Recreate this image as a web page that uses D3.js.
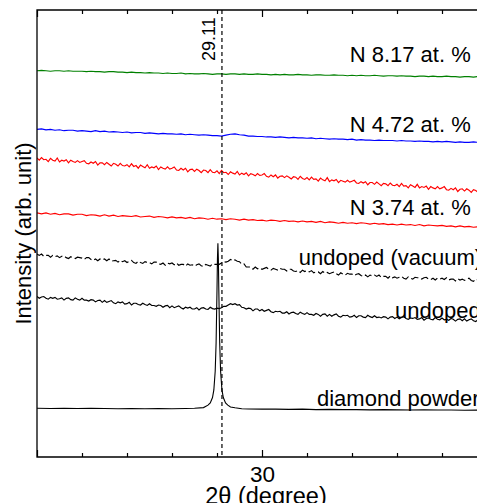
<!DOCTYPE html>
<html>
<head>
<meta charset="utf-8">
<script src="https://cdn.jsdelivr.net/npm/d3@7"></script>
<style>
  body { margin: 0; background: #fff; }
  svg { display: block; font-family: "Liberation Sans", Arial, sans-serif; }
</style>
</head>
<body>
<div id="chart"></div>
<script>
// sampling grids of the XRD traces (2theta, degree)
const twoThetaStart = 25.0
const coarseStep = 0.1
const fineStep = 0.05

// intensities (arb. unit, offset traces)
const n817 = [
  86.4, 86.5, 86.4, 86.3, 86.4, 86.4, 86.3, 86.4, 86.3, 86.3,
  86.3, 86.2, 86.3, 86.2, 86.2, 86.1, 86.2, 86.2, 86.1, 86.1,
  86.0, 86.1, 86.0, 86.0, 85.9, 86.0, 85.9, 85.9, 85.8, 85.9,
  85.8, 85.8, 85.9, 85.7, 85.8, 85.7, 85.7, 85.8, 85.7, 85.6,
  85.7, 85.7, 85.6, 85.7, 85.7, 85.6, 85.7, 85.6, 85.6, 85.7,
  85.6, 85.6, 85.5, 85.6, 85.5, 85.6, 85.5, 85.5, 85.6, 85.5,
  85.5, 85.4, 85.5, 85.5, 85.4, 85.4, 85.5, 85.4, 85.4, 85.3,
  85.4, 85.3, 85.4, 85.3, 85.3, 85.4, 85.3, 85.2, 85.3, 85.3,
  85.2, 85.3, 85.2, 85.2, 85.1, 85.2, 85.2, 85.1, 85.2, 85.1,
  85.1, 85.2, 85.1, 85.1, 85.0, 85.1, 85.1, 85.0, 85.1, 85.0
]
const n472 = [
  73.3, 73.4, 73.2, 73.3, 73.1, 73.2, 73.0, 73.1, 73.1, 72.9,
  73.0, 72.9, 72.8, 73.0, 72.8, 72.9, 72.7, 72.8, 72.7, 72.6,
  72.7, 72.5, 72.6, 72.6, 72.4, 72.5, 72.4, 72.3, 72.4, 72.3,
  72.3, 72.2, 72.3, 72.1, 72.2, 72.1, 72.0, 72.1, 72.0, 71.9,
  71.9, 71.8, 72.0, 72.2, 72.3, 72.1, 72.0, 71.8, 71.8, 71.7,
  71.7, 71.6, 71.6, 71.5, 71.6, 71.5, 71.4, 71.5, 71.4, 71.4,
  71.3, 71.4, 71.2, 71.3, 71.2, 71.1, 71.2, 71.1, 71.1, 71.0,
  71.1, 70.9, 71.0, 70.9, 70.9, 70.8, 70.9, 70.8, 70.8, 70.8,
  70.7, 70.8, 70.7, 70.7, 70.6, 70.7, 70.6, 70.6, 70.5, 70.6,
  70.5, 70.6, 70.5, 70.4, 70.5, 70.4, 70.4, 70.5, 70.4, 70.3
]
// unlabelled red trace (fine grid)
const n374b = [
  66.9, 66.4, 67.0, 66.5, 66.6, 66.1, 66.8, 66.4, 66.2, 66.9,
  66.0, 66.4, 66.2, 66.5, 65.8, 66.4, 66.1, 65.9, 66.3, 65.9,
  66.1, 66.3, 65.7, 65.6, 66.0, 65.7, 66.1, 65.3, 65.8, 65.8,
  65.4, 65.9, 65.5, 65.1, 65.7, 65.5, 65.1, 65.7, 65.2, 65.1,
  65.4, 64.9, 65.6, 65.0, 65.2, 64.6, 65.3, 65.0, 64.7, 65.4,
  64.6, 64.9, 64.7, 65.1, 64.3, 64.9, 64.6, 64.4, 64.9, 64.4,
  64.6, 64.9, 64.2, 64.1, 64.6, 64.2, 64.6, 63.8, 64.3, 64.4,
  63.9, 64.4, 64.1, 63.6, 64.2, 64.1, 63.6, 64.3, 63.7, 63.6,
  64.0, 63.4, 64.1, 63.6, 63.7, 63.2, 63.8, 63.5, 63.3, 63.9,
  63.1, 63.5, 63.2, 63.6, 62.9, 63.4, 63.2, 62.9, 63.4, 63.0,
  63.1, 63.4, 62.8, 62.6, 63.1, 62.7, 63.1, 62.4, 62.8, 62.9,
  62.5, 62.9, 62.6, 62.2, 62.7, 62.6, 62.1, 62.8, 62.3, 62.1,
  62.5, 62.0, 62.6, 62.1, 62.2, 61.7, 62.4, 62.0, 61.8, 62.5,
  61.6, 62.0, 61.8, 62.1, 61.4, 61.9, 61.7, 61.5, 61.9, 61.5,
  61.7, 61.9, 61.3, 61.2, 61.6, 61.3, 61.6, 60.9, 61.4, 61.4,
  61.0, 61.5, 61.1, 60.7, 61.2, 61.1, 60.7, 61.3, 60.8, 60.7,
  61.0, 60.5, 61.2, 60.6, 60.7, 60.2, 60.9, 60.6, 60.3, 61.0,
  60.2, 60.5, 60.3, 60.6, 59.9, 60.5, 60.2, 60.0, 60.5, 60.0,
  60.2, 60.5, 59.8, 59.7, 60.1, 59.8, 60.2, 59.4, 59.9, 60.0,
  59.5, 60.0, 59.7, 59.2, 59.8, 59.6, 59.2, 59.9, 59.3, 59.2
]
const n374 = [
  54.6, 54.4, 54.6, 54.3, 54.5, 54.2, 54.4, 54.4, 54.1, 54.3,
  54.3, 54.0, 54.2, 54.1, 53.9, 54.2, 53.9, 54.1, 53.8, 54.0,
  53.9, 53.8, 54.0, 53.7, 53.8, 53.9, 53.6, 53.8, 53.7, 53.5,
  53.7, 53.5, 53.6, 53.4, 53.6, 53.3, 53.5, 53.4, 53.2, 53.4,
  53.2, 53.3, 53.1, 53.3, 53.2, 53.0, 53.2, 53.0, 53.1, 52.9,
  53.0, 52.8, 53.0, 52.9, 52.7, 52.9, 52.7, 52.8, 52.6, 52.8,
  52.6, 52.7, 52.5, 52.7, 52.4, 52.6, 52.5, 52.3, 52.5, 52.3,
  52.4, 52.2, 52.4, 52.3, 52.1, 52.3, 52.1, 52.2, 52.0, 52.1,
  51.9, 52.1, 51.9, 52.0, 51.8, 52.0, 51.7, 51.9, 51.8, 51.7,
  51.8, 51.6, 51.7, 51.5, 51.7, 51.5, 51.6, 51.4, 51.5, 51.4
]
// fine grid
const undopedVacuum = [
  45.4, 45.1, 45.4, 44.9, 45.1, 45.1, 44.7, 45.1, 44.8, 45.0,
  44.6, 44.9, 45.0, 44.6, 44.4, 44.8, 44.6, 44.4, 44.7, 44.6,
  44.5, 44.2, 44.6, 44.6, 44.2, 44.0, 44.3, 43.9, 44.3, 44.1,
  44.3, 43.9, 44.3, 43.8, 43.9, 44.0, 43.6, 44.0, 43.7, 43.9,
  43.5, 43.8, 44.0, 43.5, 43.3, 43.8, 43.5, 43.3, 43.7, 43.5,
  43.5, 43.2, 43.6, 43.6, 43.2, 43.1, 43.4, 42.9, 43.4, 43.2,
  43.4, 43.0, 43.4, 42.9, 43.1, 43.1, 42.7, 43.2, 42.9, 43.0,
  42.7, 43.0, 43.2, 42.8, 42.6, 43.1, 42.9, 42.7, 43.2, 43.1,
  43.1, 43.1, 43.4, 43.7, 43.6, 43.8, 44.2, 43.9, 44.1, 43.8,
  43.7, 43.1, 43.2, 42.5, 42.5, 42.5, 42.0, 42.5, 42.1, 42.3,
  42.0, 42.2, 42.4, 42.0, 41.8, 42.2, 42.0, 41.8, 42.2, 42.0,
  42.0, 41.6, 42.0, 42.0, 41.6, 41.5, 41.7, 41.3, 41.8, 41.5,
  41.7, 41.4, 41.7, 41.2, 41.4, 41.4, 41.0, 41.5, 41.1, 41.3,
  41.0, 41.2, 41.4, 41.0, 40.7, 41.2, 40.9, 40.7, 41.1, 40.9,
  40.9, 40.6, 40.9, 41.0, 40.6, 40.4, 40.7, 40.3, 40.7, 40.5,
  40.7, 40.4, 40.7, 40.2, 40.4, 40.4, 40.0, 40.5, 40.1, 40.3,
  40.0, 40.2, 40.4, 40.0, 39.8, 40.3, 40.0, 39.8, 40.2, 40.1,
  40.1, 39.8, 40.1, 40.2, 39.8, 39.7, 40.0, 39.6, 40.0, 39.8,
  40.0, 39.7, 40.1, 39.6, 39.8, 39.8, 39.4, 39.9, 39.6, 39.8,
  39.5, 39.8, 40.0, 39.5, 39.3, 39.8, 39.6, 39.4, 39.8, 39.7
]
const undoped = [
  35.9, 35.5, 35.8, 35.9, 35.5, 35.3, 35.7, 35.5, 35.7, 35.3,
  35.4, 35.6, 35.1, 35.5, 35.6, 35.2, 35.1, 35.6, 35.3, 35.1,
  35.5, 35.1, 35.1, 34.9, 35.2, 35.1, 34.7, 35.0, 35.1, 34.6,
  35.0, 34.6, 34.8, 35.0, 34.5, 34.3, 34.7, 34.5, 34.7, 34.2,
  34.3, 34.6, 34.0, 34.4, 34.4, 34.1, 34.0, 34.4, 34.1, 33.9,
  34.3, 33.9, 33.9, 33.7, 34.0, 33.9, 33.5, 33.8, 33.9, 33.4,
  33.8, 33.4, 33.6, 33.8, 33.4, 33.1, 33.5, 33.3, 33.5, 33.1,
  33.1, 33.4, 32.9, 33.3, 33.4, 33.1, 33.0, 33.5, 33.2, 33.1,
  33.3, 33.2, 33.4, 33.7, 33.7, 34.0, 34.3, 34.1, 34.3, 34.0,
  34.1, 33.5, 33.4, 33.1, 33.3, 33.2, 32.7, 33.1, 33.1, 32.7,
  33.0, 32.6, 32.8, 33.0, 32.5, 32.3, 32.6, 32.5, 32.6, 32.2,
  32.2, 32.5, 32.0, 32.3, 32.4, 32.1, 31.9, 32.4, 32.1, 31.9,
  32.3, 31.9, 31.9, 31.7, 32.1, 31.9, 31.5, 31.9, 32.0, 31.5,
  31.9, 31.5, 31.8, 32.0, 31.5, 31.3, 31.7, 31.6, 31.7, 31.3,
  31.4, 31.7, 31.2, 31.6, 31.6, 31.3, 31.2, 31.7, 31.4, 31.2,
  31.6, 31.2, 31.3, 31.1, 31.4, 31.3, 30.9, 31.3, 31.4, 31.0,
  31.3, 30.9, 31.2, 31.4, 31.0, 30.8, 31.1, 31.0, 31.2, 30.8,
  30.9, 31.2, 30.6, 31.0, 31.1, 30.8, 30.7, 31.2, 30.8, 30.7,
  31.1, 30.7, 30.8, 30.6, 31.0, 30.8, 30.4, 30.8, 30.9, 30.5,
  30.9, 30.4, 30.7, 30.9, 30.5, 30.3, 30.7, 30.5, 30.7, 30.3
]

// diamond powder reference, denser around the (111) peak
const diamondTheta = [
  25.0, 25.3, 25.6, 25.9, 26.2, 26.5, 26.8, 27.1, 27.4, 27.7, 28.0, 28.3, 28.5, 28.7,
  28.8, 28.85, 28.9, 28.93, 28.96, 28.98, 29.0, 29.01, 29.02, 29.03, 29.04, 29.06,
  29.08, 29.11, 29.14, 29.19, 29.24, 29.3, 29.4, 29.55, 29.7, 30.0, 30.3, 30.6, 30.9,
  31.2, 31.5, 31.8, 32.1, 32.4, 32.7, 33.0, 33.3, 33.6, 33.9, 34.2, 34.5, 34.8, 35.0
]
const diamondIntensity = [
  10.9, 10.85, 10.9, 10.85, 10.9, 10.85, 10.8, 10.85, 10.8, 10.85, 10.8, 10.85, 10.9, 11.05,
  11.6, 12.1, 13.3, 15.0, 19.2, 25.5, 37.5, 44.4, 47.8, 44.4, 37.5, 25.5,
  19.2, 15.0, 13.3, 12.1, 11.6, 11.2, 11.0, 10.8, 10.75, 10.7, 10.7, 10.65, 10.7,
  10.6, 10.65, 10.6, 10.6, 10.55, 10.6, 10.55, 10.5, 10.55, 10.5, 10.5, 10.45, 10.5, 10.45
]

const peakPosition = 29.11
const majorTicks = [25, 30, 35]
const minorTicks = [26, 27, 28, 29, 31, 32, 33, 34]
const tickLabels = [30]

const seriesNames = ['N 8.17 at. %', 'N 4.72 at. %', '', 'N 3.74 at. %', 'undoped (vacuum)', 'undoped']
const seriesColors = ['#008000', '#0000ff', '#ff0000', '#ff0000', '#000000', '#000000']

let series = [
    { values: n817, step: coarseStep },
    { values: n472, step: coarseStep },
    { values: n374b, step: fineStep },
    { values: n374, step: coarseStep },
    { values: undopedVacuum, step: fineStep, dash: '8,3' },
    { values: undoped, step: fineStep }
]

let width = 477, height = 503
let margin = { left: 37, top: 10 }
let plotW = 450, plotH = 447

let svg = d3.select('#chart').append('svg')
    .attr('width', width)
    .attr('height', height)

let g = svg.append('g')
    .attr('transform', 'translate(' + margin.left + ',' + margin.top + ')')

let x = d3.scaleLinear().domain([25, 35]).range([0, plotW])
let y = d3.scaleLinear().domain([0, 100]).range([plotH, 0])

g.append('clipPath').attr('id', 'plot-clip')
    .append('rect').attr('width', plotW).attr('height', plotH)

let plot = g.append('g').attr('clip-path', 'url(#plot-clip)')

let line = d3.line()
    .x(function (d) { return x(d[0]) })
    .y(function (d) { return y(d[1]) })

series.forEach(function (s, k) {
    let pts = s.values.map(function (v, i) { return [twoThetaStart + i * s.step, v] })
    plot.append('path')
        .attr('d', line(pts))
        .attr('fill', 'none')
        .attr('stroke', seriesColors[k])
        .attr('stroke-width', 1.15)
        .attr('stroke-dasharray', s.dash || null)
})

plot.append('path')
    .attr('d', line(diamondTheta.map(function (t, i) { return [t, diamondIntensity[i]] })))
    .attr('fill', 'none')
    .attr('stroke', '#000')
    .attr('stroke-width', 1.1)

// reference position of the peak
plot.append('line')
    .attr('x1', x(peakPosition)).attr('x2', x(peakPosition))
    .attr('y1', 0).attr('y2', plotH)
    .attr('stroke', '#000')
    .attr('stroke-width', 1.2)
    .attr('stroke-dasharray', '4,3')

g.append('text')
    .attr('transform', 'translate(' + (x(peakPosition) - 6.5) + ',51) rotate(-90)')
    .attr('font-size', 18)
    .text(peakPosition.toFixed(2))

// ticks point inward on top and bottom
function ticks(axis, values, size, ty) {
    let a = g.append('g')
        .attr('transform', 'translate(0,' + ty + ')')
        .call(axis(x).tickValues(values).tickSize(size).tickSizeOuter(0).tickFormat(''))
    a.select('.domain').remove()
    a.selectAll('line').attr('stroke-width', 1.2)
}
ticks(d3.axisBottom, minorTicks, 4, 0)
ticks(d3.axisBottom, majorTicks, 7, 0)
ticks(d3.axisTop, minorTicks, 4, plotH)
ticks(d3.axisTop, majorTicks, 7, plotH)

let lbl = g.append('g')
    .attr('transform', 'translate(0,' + plotH + ')')
    .call(d3.axisBottom(x).tickValues(tickLabels).tickSize(0).tickPadding(9))
lbl.select('.domain').remove()
lbl.selectAll('text')
    .attr('font-size', 22.5)
    .attr('font-family', '"Liberation Sans", Arial, sans-serif')
    .attr('fill', '#000')

// frame
g.append('path')
    .attr('d', 'M' + plotW + ',0H0V' + plotH + 'H' + plotW)
    .attr('fill', 'none')
    .attr('stroke', '#000')
    .attr('stroke-width', 1.3)

// trace labels
let labelPos = [
    [349.7, 62], [349.7, 131.5], null, [349.7, 214.5], [298.7, 265], [395, 318]
]
seriesNames.forEach(function (name, k) {
    if (!labelPos[k]) return
    svg.append('text')
        .attr('x', labelPos[k][0])
        .attr('y', labelPos[k][1])
        .attr('font-size', 22)
        .text(name)
})
svg.append('text')
    .attr('x', 317).attr('y', 406)
    .attr('font-size', 22)
    .text('diamond powder')

svg.append('text')
    .attr('transform', 'translate(31,' + (margin.top + plotH / 2) + ') rotate(-90)')
    .attr('text-anchor', 'middle')
    .attr('font-size', 22)
    .text('Intensity (arb. unit)')

svg.append('text')
    .attr('x', 266)
    .attr('y', 504)
    .attr('text-anchor', 'middle')
    .attr('font-size', 23.5)
    .text('2θ (degree)')
</script>
</body>
</html>
